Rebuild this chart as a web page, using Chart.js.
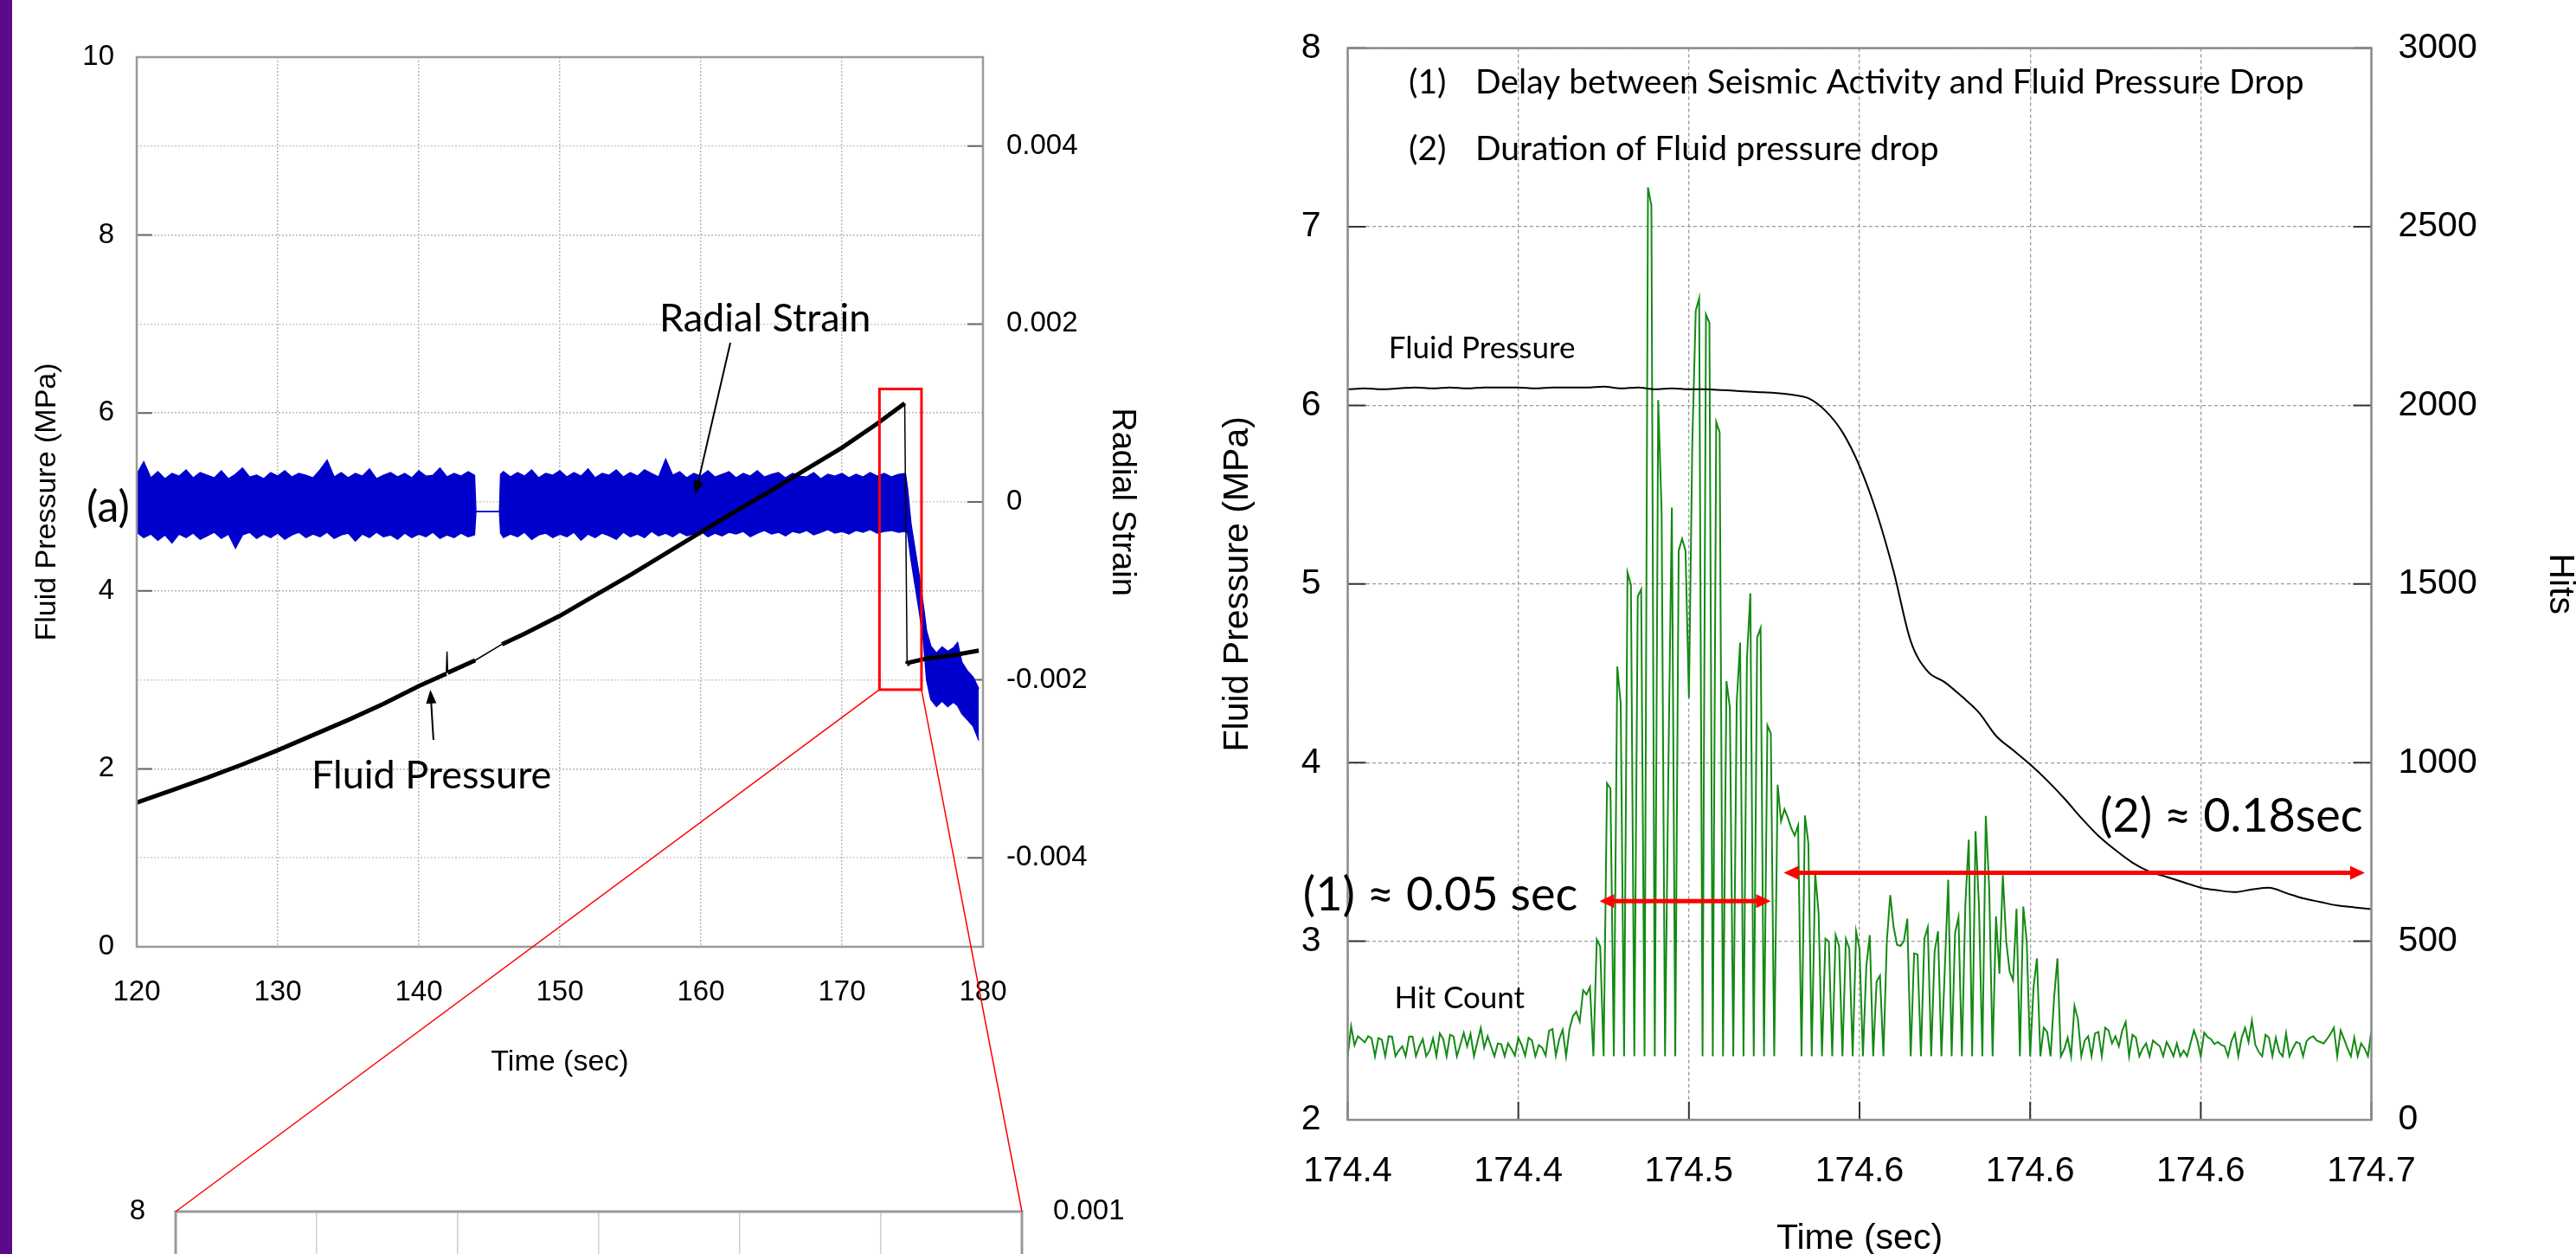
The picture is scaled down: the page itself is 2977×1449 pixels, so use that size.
<!DOCTYPE html>
<html>
<head>
<meta charset="utf-8">
<title>Fluid pressure, radial strain and hit count</title>
<script src="https://cdn.jsdelivr.net/npm/chart.js@4.4.0/dist/chart.umd.min.js"></script>
<style>
    html, body { margin: 0; padding: 0; background: #fff; overflow: hidden; }
    body { width: 2977px; height: 1449px; position: relative; }
    #bar { position: absolute; left: 0; top: 0; width: 14px; height: 1449px; background: #5b0b8a; }
    canvas { position: absolute; }
    #chartA { left: 0; top: 0; }
    #chartB { left: 1360px; top: 0; }
    #chartC { left: 0; top: 1330px; }
    #overlay { left: 0; top: 0; pointer-events: none; }
</style>
</head>
<body>
<div id="bar"></div>
<canvas id="chartC" width="1400" height="1000"></canvas>
<canvas id="chartA" width="1400" height="1300"></canvas>
<canvas id="chartB" width="1650" height="1500"></canvas>
<canvas id="overlay" width="2977" height="1449"></canvas>
<script>
// ---- (a) long record: fluid pressure (MPa) ----
const fpLongTime  = [120, 122.5, 125, 127.5, 130, 132.5, 135, 137.5, 140, 141.95, 142, 142.05, 144,
    145.9, 147.5, 150, 152.5, 155, 157.5, 160, 162.5, 165, 167.5, 170, 172.5, 174.45, 174.62, 174.65, 176, 178, 179.7];
const fpLongValue = [1.62, 1.76, 1.90, 2.05, 2.21, 2.38, 2.55, 2.73, 2.93, 3.07, 3.32, 3.08, 3.22,
    3.40, 3.52, 3.72, 3.95, 4.18, 4.42, 4.66, 4.90, 5.13, 5.37, 5.61, 5.88, 6.11, 3.18, 3.19, 3.24, 3.28, 3.33];
// segments drawn thin (spike, data gap, drop) - index of first point
const fpThinSegments = [9, 10, 12, 25];

// ---- (a) radial strain: upper / lower edge of the noisy band ----
const strainTime = [
    120, 120.5, 121, 121.5, 122, 122.5, 123, 123.5, 124, 124.5, 125, 125.5, 126, 126.5, 127, 127.5, 128, 128.5, 129, 129.5,
    130, 130.5, 131, 131.5, 132, 132.5, 133, 133.5, 134, 134.5, 135, 135.5, 136, 136.5, 137, 137.5, 138, 138.5, 139, 139.5,
    140, 140.5, 141, 141.5, 142, 142.5, 143, 143.5, 143.95,
    144.05, 145.72,
    145.8, 146, 146.5, 147, 147.5, 148, 148.5, 149, 149.5, 150, 150.5, 151, 151.5, 152, 152.5, 153, 153.5, 154, 154.5, 155,
    155.5, 156, 156.5, 157, 157.5, 158, 158.5, 159, 159.5, 160, 160.5, 161, 161.5, 162, 162.5, 163, 163.5, 164, 164.5, 165,
    165.5, 166, 166.5, 167, 167.5, 168, 168.5, 169, 169.5, 170, 170.5, 171, 171.5, 172, 172.5, 173, 173.5, 174, 174.5,
    174.65, 174.9, 175.2, 175.5, 175.8, 176.0, 176.3, 176.7, 177.1, 177.5, 177.9, 178.2, 178.5, 178.9, 179.3, 179.55, 179.7];
const strainUpper = [
    0.00031, 0.00045, 0.00027, 0.00034, 0.00026, 0.00032, 0.00029, 0.00036, 0.00027, 0.00033,
    0.00030, 0.00027, 0.00035, 0.00026, 0.00031, 0.00038, 0.00028, 0.00030, 0.00026, 0.00033,
    0.00029, 0.00035, 0.00028, 0.00032, 0.00030, 0.00027, 0.00036, 0.00047, 0.00028, 0.00033,
    0.00027, 0.00032, 0.00029, 0.00037, 0.00026, 0.00030, 0.00033, 0.00028, 0.00032, 0.00027,
    0.00035, 0.00029, 0.00030, 0.00038, 0.00028, 0.00032, 0.00029, 0.00034, 0.00030,
    -0.00011, -0.00011,
    0.00031, 0.00034, 0.00028, 0.00033, 0.00029, 0.00036, 0.00027, 0.00032, 0.00030, 0.00035,
    0.00028, 0.00033, 0.00029, 0.00037, 0.00027, 0.00032, 0.00030, 0.00036, 0.00028, 0.00033,
    0.00029, 0.00036, 0.00032, 0.00028, 0.00048, 0.00030, 0.00034, 0.00027, 0.00032, 0.00029,
    0.00035, 0.00028, 0.00031, 0.00034, 0.00027, 0.00032, 0.00029, 0.00035, 0.00028, 0.00031,
    0.00033, 0.00027, 0.00032, 0.00029, 0.00028, 0.00033, 0.00026, 0.00031, 0.00029, 0.00032,
    0.00027, 0.00031, 0.00028, 0.00033, 0.00029, 0.00032, 0.00028, 0.00031, 0.00032,
    0.00015, -0.00025, -0.00055, -0.00085, -0.00120, -0.00145, -0.00162, -0.00170, -0.00163, -0.00168, -0.00164, -0.00158, -0.00180, -0.00190, -0.00197, -0.00205, -0.00210];
const strainLower = [
    -0.00034, -0.00040, -0.00036, -0.00043, -0.00037, -0.00046, -0.00036, -0.00040, -0.00035, -0.00042,
    -0.00038, -0.00034, -0.00041, -0.00036, -0.00052, -0.00037, -0.00034, -0.00041, -0.00036, -0.00040,
    -0.00035, -0.00042, -0.00037, -0.00034, -0.00040, -0.00036, -0.00039, -0.00034, -0.00041, -0.00037,
    -0.00035, -0.00044, -0.00036, -0.00040, -0.00034, -0.00039, -0.00037, -0.00042, -0.00035, -0.00040,
    -0.00036, -0.00039, -0.00034, -0.00041, -0.00037, -0.00040, -0.00035, -0.00039, -0.00037,
    -0.00011, -0.00011,
    -0.00035, -0.00040, -0.00036, -0.00039, -0.00034, -0.00042, -0.00037, -0.00035, -0.00040, -0.00036,
    -0.00039, -0.00034, -0.00043, -0.00036, -0.00040, -0.00035, -0.00038, -0.00042, -0.00034, -0.00039,
    -0.00036, -0.00040, -0.00033, -0.00038, -0.00035, -0.00039, -0.00034, -0.00038, -0.00036, -0.00033,
    -0.00039, -0.00035, -0.00038, -0.00034, -0.00036, -0.00033, -0.00039, -0.00035, -0.00032, -0.00036,
    -0.00034, -0.00038, -0.00033, -0.00035, -0.00032, -0.00037, -0.00034, -0.00031, -0.00035, -0.00033,
    -0.00036, -0.00032, -0.00034, -0.00031, -0.00035, -0.00033, -0.00032, -0.00034, -0.00033,
    -0.00035, -0.00065, -0.00095, -0.00125, -0.00160, -0.00200, -0.00222, -0.00230, -0.00224, -0.00230, -0.00225, -0.00229, -0.00238, -0.00245, -0.00252, -0.00262, -0.00268];
const strainTicks = [-0.004, -0.002, 0, 0.002, 0.004];
const strainTickLabels = ['-0.004', '-0.002', '0', '0.002', '0.004'];

// zoom window marked on (a), in (a) data units
const zoomBoxTime = [172.66, 175.64];
const zoomBoxPressure = [2.89, 6.27];

// ---- (b) zoomed: fluid pressure every 5 ms from 174.400 s ----
const fpStart = 174.400;
const fpStep = 0.005;
const fpShort = [6.09, 6.095, 6.09, 6.095, 6.10, 6.095, 6.10, 6.095, 6.10, 6.10,
    6.10, 6.095, 6.10, 6.10, 6.10, 6.105, 6.095, 6.10, 6.09, 6.095,
    6.09, 6.09, 6.085, 6.08, 6.075, 6.07, 6.06, 6.04, 5.97, 5.85,
    5.66, 5.40, 5.07, 4.68, 4.51, 4.45, 4.37, 4.28, 4.15, 4.07,
    3.99, 3.90, 3.80, 3.69, 3.59, 3.51, 3.44, 3.39, 3.36, 3.33,
    3.30, 3.285, 3.275, 3.29, 3.30, 3.27, 3.24, 3.22, 3.20, 3.19, 3.18];

// ---- (b) hit count every 1 ms from 174.400 s ----
const hitStart = 174.400;
const hitStep = 0.001;
const hitCount = [178, 262, 209, 234, 226, 217, 234, 228, 178, 229,
    224, 178, 234, 233, 178, 194, 206, 178, 233, 233,
    178, 206, 226, 178, 194, 228, 178, 242, 226, 178,
    238, 234, 178, 210, 244, 206, 241, 178, 218, 257,
    202, 234, 206, 178, 214, 212, 178, 214, 198, 180,
    230, 209, 180, 230, 222, 178, 209, 202, 180, 249,
    254, 180, 226, 252, 178, 254, 290, 303, 275, 363,
    351, 372, 178, 505, 485, 178, 942, 927, 178, 1269,
    1167, 178, 1532, 1498, 178, 1465, 1485, 178, 2610, 2560,
    178, 2015, 1700, 178, 1000, 1714, 178, 1593, 1627, 1593,
    1181, 1900, 2265, 2300, 178, 2254, 2231, 178, 1953, 1925,
    178, 1228, 1154, 178, 1167, 1336, 178, 1289, 1474, 178,
    1350, 1377, 178, 1104, 1082, 178, 938, 836, 870, 845,
    816, 796, 824, 178, 852, 775, 178, 690, 580, 178,
    507, 499, 178, 517, 487, 178, 506, 479, 178, 527,
    479, 178, 431, 517, 178, 387, 404, 178, 499, 629,
    539, 490, 487, 500, 563, 178, 466, 463, 178, 507,
    539, 178, 471, 528, 178, 425, 672, 178, 523, 567,
    178, 600, 784, 178, 808, 600, 178, 851, 650, 178,
    570, 409, 685, 499, 415, 391, 591, 178, 597, 499,
    178, 371, 452, 178, 258, 246, 178, 339, 452, 178,
    198, 230, 178, 319, 282, 178, 222, 234, 178, 242,
    246, 178, 258, 250, 214, 234, 206, 250, 274, 178,
    238, 230, 178, 200, 214, 178, 222, 214, 206, 178,
    218, 200, 178, 214, 178, 194, 178, 214, 250, 222,
    178, 244, 232, 226, 212, 218, 210, 206, 178, 220,
    242, 178, 230, 258, 218, 278, 210, 190, 178, 238,
    230, 178, 230, 190, 178, 242, 178, 200, 218, 214,
    178, 220, 230, 234, 222, 218, 214, 226, 240, 258,
    178, 250, 226, 200, 178, 230, 178, 214, 200, 178, 250];

// x ticks of (b) and the rounded labels printed under them
const timeTicks = [174.40, 174.45, 174.50, 174.55, 174.60, 174.65, 174.70];
const timeTickLabels = ['174.4', '174.4', '174.5', '174.6', '174.6', '174.6', '174.7'];

// annotated intervals in (b): [start, end, pressure level]
const delaySpan = [174.4738, 174.524, 3.224];
const dropSpan = [174.5278, 174.6981, 3.383];

Chart.defaults.font.family = "'Liberation Sans', Arial, sans-serif";
Chart.defaults.color = '#000';

const CALIBRI = "Lato, 'Open Sans', sans-serif";

function toPoints(xs, ys) {
    return xs.map((x, i) => ({x: x, y: ys[i]}));
}

function drawArrow(ctx, x0, y0, x1, y1, a) {
    const ang = Math.atan2(y1 - y0, x1 - x0);
    const cos = Math.cos(ang), sin = Math.sin(ang);
    ctx.strokeStyle = a.color;
    ctx.fillStyle = a.color;
    ctx.lineWidth = a.width;
    const back = a.head * 0.7;
    ctx.beginPath();
    ctx.moveTo(a.both ? x0 + cos * back : x0, a.both ? y0 + sin * back : y0);
    ctx.lineTo(x1 - cos * back, y1 - sin * back);
    ctx.stroke();
    const head = (x, y, c, s) => {
        ctx.beginPath();
        ctx.moveTo(x, y);
        ctx.lineTo(x - c * a.head - s * a.half, y - s * a.head + c * a.half);
        ctx.lineTo(x - c * a.head + s * a.half, y - s * a.head - c * a.half);
        ctx.closePath();
        ctx.fill();
    };
    head(x1, y1, cos, sin);
    if (a.both) head(x0, y0, -cos, -sin);
}

const framePlugin = {
    id: 'frame',
    afterDatasetsDraw(chart, args, opts) {
        const {ctx, chartArea: a} = chart;
        ctx.save();
        ctx.strokeStyle = opts.color;
        ctx.lineWidth = opts.width;
        ctx.strokeRect(a.left, a.top, a.right - a.left, a.bottom - a.top);
        ctx.restore();
    }
};

// short tick marks drawn inside the plot area
const innerTicksPlugin = {
    id: 'innerTicks',
    beforeDatasetsDraw(chart, args, opts) {
        const {ctx, chartArea: a, scales} = chart;
        ctx.save();
        ctx.strokeStyle = opts.color;
        ctx.lineWidth = opts.width;
        ctx.beginPath();
        (opts.scales || []).forEach(id => {
            const s = scales[id];
            s.ticks.forEach(t => {
                const p = s.getPixelForValue(t.value);
                if (s.axis === 'x') {
                    ctx.moveTo(p, a.bottom); ctx.lineTo(p, a.bottom - opts.length);
                } else if (s.position === 'left') {
                    ctx.moveTo(a.left, p); ctx.lineTo(a.left + opts.length, p);
                } else {
                    ctx.moveTo(a.right, p); ctx.lineTo(a.right - opts.length, p);
                }
            });
        });
        ctx.stroke();
        ctx.restore();
    }
};

// texts, arrows and boxes placed in data units
const notesPlugin = {
    id: 'notes',
    afterDraw(chart, args, opts) {
        const {ctx, scales} = chart;
        const sx = scales.x, sy = scales.y;
        ctx.save();
        (opts.boxes || []).forEach(b => {
            const x0 = sx.getPixelForValue(b.x[0]), x1 = sx.getPixelForValue(b.x[1]);
            const y0 = sy.getPixelForValue(b.y[0]), y1 = sy.getPixelForValue(b.y[1]);
            ctx.strokeStyle = b.color;
            ctx.lineWidth = b.width;
            ctx.strokeRect(x0, y1, x1 - x0, y0 - y1);
        });
        (opts.arrows || []).forEach(a => {
            drawArrow(ctx, sx.getPixelForValue(a.x0), sy.getPixelForValue(a.y0),
                sx.getPixelForValue(a.x1), sy.getPixelForValue(a.y1), a);
        });
        (opts.texts || []).forEach(t => {
            ctx.font = t.font;
            ctx.fillStyle = '#000';
            ctx.textAlign = t.align || 'left';
            ctx.textBaseline = 'middle';
            ctx.fillText(t.text, sx.getPixelForValue(t.x), sy.getPixelForValue(t.y));
        });
        ctx.restore();
    }
};

const dottedGrid = {color: '#b8b8b8', lineWidth: 1.5, drawTicks: false};
const dashedGrid = {color: '#9a9a9a', lineWidth: 1.3, drawTicks: false};

// ---------------- (a) ----------------
const chartA = new Chart(document.getElementById('chartA'), {
    type: 'line',
    data: {
        datasets: [
            {
                label: 'Fluid Pressure', yAxisID: 'y',
                data: toPoints(fpLongTime, fpLongValue),
                borderColor: '#000', borderWidth: 5, pointRadius: 0,
                segment: {borderWidth: ctx => fpThinSegments.includes(ctx.p0DataIndex) ? 1.5 : 5}
            },
            {
                label: 'Radial Strain', yAxisID: 'y1',
                data: toPoints(strainTime, strainUpper),
                borderColor: '#0000cc', backgroundColor: '#0000cc', borderWidth: 1.5,
                pointRadius: 0, fill: '+1'
            },
            {
                label: 'Radial Strain (low)', yAxisID: 'y1',
                data: toPoints(strainTime, strainLower),
                borderColor: '#0000cc', borderWidth: 1.5, pointRadius: 0, fill: false
            }
        ]
    },
    options: {
        responsive: false, animation: false, devicePixelRatio: 1,
        layout: {padding: {left: 14, right: 0, top: 66, bottom: 0}},
        scales: {
            x: {
                type: 'linear', min: 120, max: 180,
                ticks: {stepSize: 10, padding: 33, font: {size: 33}},
                grid: dottedGrid, border: {display: false, dash: [2, 2]},
                title: {display: true, text: 'Time (sec)', font: {size: 34}, padding: {top: 0, bottom: 52}},
                afterFit(s) { s.height = 206; }
            },
            y: {
                position: 'left', min: 0, max: 10,
                ticks: {stepSize: 2, padding: 26, font: {size: 33}},
                grid: dottedGrid, border: {display: false, dash: [2, 2]},
                title: {display: true, text: 'Fluid Pressure (MPa)', font: {size: 34}, padding: {top: 20, bottom: 0}},
                afterFit(s) { s.width = 144; }
            },
            y1: {
                position: 'right', min: -0.005, max: 0.005,
                afterBuildTicks(s) { s.ticks = strainTicks.map(v => ({value: v})); },
                ticks: {padding: 27, font: {size: 33}, callback: (v, i) => strainTickLabels[i]},
                grid: {color: '#cccccc', lineWidth: 1.5, drawTicks: false}, border: {display: false, dash: [2, 2]},
                title: {display: true, text: 'Radial Strain', font: {size: 38}, padding: {top: 81, bottom: 0}},
                afterFit(s) { s.width = 264; }
            }
        },
        plugins: {
            legend: {display: false},
            tooltip: {enabled: false},
            frame: {color: '#9a9a9a', width: 2.5},
            innerTicks: {scales: ['y', 'y1'], length: 18, color: '#666', width: 2},
            notes: {
                boxes: [{x: zoomBoxTime, y: zoomBoxPressure, color: '#ff0000', width: 3}],
                arrows: [
                    {x0: 162.09, y0: 6.79, x1: 159.6, y1: 5.08, color: '#000', width: 2, head: 16, half: 6},
                    {x0: 141.04, y0: 2.325, x1: 140.82, y1: 2.89, color: '#000', width: 2, head: 16, half: 6}
                ],
                texts: [
                    {text: '(a)', x: 119.5, y: 4.93, align: 'right', font: '50px ' + CALIBRI},
                    {text: 'Radial Strain', x: 164.55, y: 7.06, align: 'center', font: '45px ' + CALIBRI},
                    {text: 'Fluid Pressure', x: 140.9, y: 1.92, align: 'center', font: '45px ' + CALIBRI}
                ]
            }
        }
    },
    plugins: [framePlugin, innerTicksPlugin, notesPlugin]
});

// ---------------- (b) ----------------
const chartB = new Chart(document.getElementById('chartB'), {
    type: 'line',
    data: {
        datasets: [
            {
                label: 'Fluid Pressure', yAxisID: 'y',
                data: fpShort.map((v, i) => ({x: fpStart + i * fpStep, y: v})),
                borderColor: '#000', borderWidth: 2, pointRadius: 0, cubicInterpolationMode: 'monotone'
            },
            {
                label: 'Hit Count', yAxisID: 'y1',
                data: hitCount.map((h, i) => ({x: hitStart + i * hitStep, y: h})),
                borderColor: '#148a14', borderWidth: 2, pointRadius: 0
            }
        ]
    },
    options: {
        responsive: false, animation: false, devicePixelRatio: 1,
        layout: {padding: {left: 10, right: 10, top: 48, bottom: 0}},
        scales: {
            x: {
                type: 'linear', min: 174.40, max: 174.70,
                afterBuildTicks(s) { s.ticks = timeTicks.map(v => ({value: v})); },
                ticks: {padding: 35, font: {size: 41}, callback: (v, i) => timeTickLabels[i], maxRotation: 0, autoSkip: false},
                grid: dashedGrid, border: {display: false, dash: [4, 3]},
                title: {display: true, text: 'Time (sec)', font: {size: 41}, padding: {top: 0, bottom: 44}},
                afterFit(s) { s.height = 206; }
            },
            y: {
                position: 'left', min: 2, max: 8,
                ticks: {stepSize: 1, padding: 31, font: {size: 41}},
                grid: dashedGrid, border: {display: false, dash: [4, 3]},
                title: {display: true, text: 'Fluid Pressure (MPa)', font: {size: 41}, padding: {top: 36, bottom: 0}},
                afterFit(s) { s.width = 187.5; }
            },
            y1: {
                position: 'right', min: 0, max: 3000,
                ticks: {stepSize: 500, padding: 31, font: {size: 41}, callback: v => String(v)},
                grid: {drawOnChartArea: false, drawTicks: false}, border: {display: false},
                title: {display: true, text: 'Hits', font: {size: 41}, padding: {top: 17, bottom: 0}},
                afterFit(s) { s.width = 259.5; }
            }
        },
        plugins: {
            legend: {display: false},
            tooltip: {enabled: false},
            frame: {color: '#8a8a8a', width: 2.5},
            innerTicks: {scales: ['x', 'y', 'y1'], length: 21, color: '#333', width: 2},
            notes: {
                arrows: [
                    {x0: delaySpan[0], y0: delaySpan[2], x1: delaySpan[1], y1: delaySpan[2], both: true, color: '#ff0000', width: 5, head: 17, half: 8},
                    {x0: dropSpan[0], y0: dropSpan[2], x1: dropSpan[1], y1: dropSpan[2], both: true, color: '#ff0000', width: 5, head: 17, half: 8}
                ],
                texts: [
                    {text: '(1)', x: 174.4179, y: 7.807, font: '39px ' + CALIBRI},
                    {text: 'Delay between Seismic Activity and Fluid Pressure Drop', x: 174.4374, y: 7.807, font: '39px ' + CALIBRI},
                    {text: '(2)', x: 174.4179, y: 7.432, font: '39px ' + CALIBRI},
                    {text: 'Duration of Fluid pressure drop', x: 174.4374, y: 7.432, font: '39px ' + CALIBRI},
                    {text: 'Fluid Pressure', x: 174.412, y: 6.32, font: '35px ' + CALIBRI},
                    {text: 'Hit Count', x: 174.4137, y: 2.682, font: '35px ' + CALIBRI},
                    {text: '(1) \u2248 0.05 sec', x: 174.3869, y: 3.258, font: '54px ' + CALIBRI},
                    {text: '(2) \u2248 0.18sec', x: 174.6205, y: 3.696, font: '54px ' + CALIBRI}
                ]
            }
        }
    },
    plugins: [framePlugin, innerTicksPlugin, notesPlugin]
});

// ---------------- zoomed window of (a): only its top edge is on the page ----------------
const chartC = new Chart(document.getElementById('chartC'), {
    type: 'line',
    data: {
        datasets: [{
            label: 'Fluid Pressure', yAxisID: 'y',
            data: toPoints(fpLongTime, fpLongValue),
            borderColor: '#000', borderWidth: 2, pointRadius: 0
        }]
    },
    options: {
        responsive: false, animation: false, devicePixelRatio: 1,
        layout: {padding: {left: 14, right: 0, top: 70, bottom: 0}},
        scales: {
            x: {
                type: 'linear', min: 173, max: 176,
                ticks: {stepSize: 0.5, display: false},
                grid: {color: '#cfcfcf', lineWidth: 1.5, drawTicks: false}, border: {display: false},
                afterFit(s) { s.height = 100; }
            },
            y: {
                position: 'left', min: 2, max: 8,
                ticks: {stepSize: 1, padding: 27, font: {size: 33}},
                grid: {display: false}, border: {display: false},
                afterFit(s) { s.width = 189; }
            },
            y1: {
                position: 'right', min: -0.005, max: 0.001,
                ticks: {stepSize: 0.001, padding: 28, font: {size: 33}},
                grid: {display: false}, border: {display: false},
                afterFit(s) { s.width = 219; }
            }
        },
        plugins: {
            legend: {display: false},
            tooltip: {enabled: false},
            frame: {color: '#9a9a9a', width: 3}
        }
    },
    plugins: [framePlugin]
});

// red lines joining the zoom box of (a) to the frame of the zoomed chart
function drawZoomLines() {
    const ov = document.getElementById('overlay').getContext('2d');
    const ra = document.getElementById('chartA').getBoundingClientRect();
    const rc = document.getElementById('chartC').getBoundingClientRect();
    const bx0 = ra.left + chartA.scales.x.getPixelForValue(zoomBoxTime[0]);
    const bx1 = ra.left + chartA.scales.x.getPixelForValue(zoomBoxTime[1]);
    const by = ra.top + chartA.scales.y.getPixelForValue(zoomBoxPressure[0]);
    const area = chartC.chartArea;
    ov.strokeStyle = '#ff0000';
    ov.lineWidth = 1.5;
    ov.beginPath();
    ov.moveTo(bx0, by); ov.lineTo(rc.left + area.left, rc.top + area.top);
    ov.moveTo(bx1, by); ov.lineTo(rc.left + area.right, rc.top + area.top);
    ov.stroke();
}
drawZoomLines();
</script>
</body>
</html>
